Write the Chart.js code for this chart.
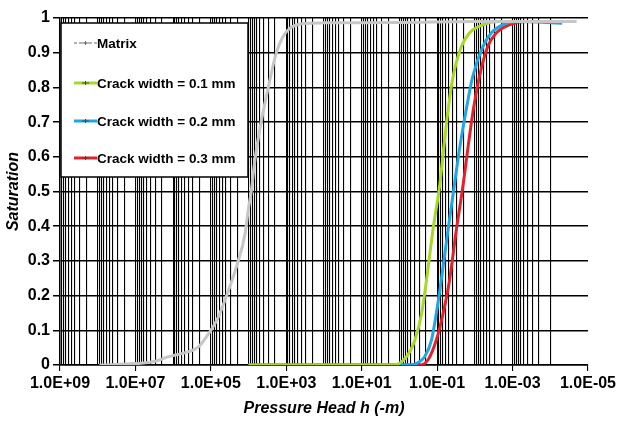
<!DOCTYPE html>
<html><head><meta charset="utf-8">
<script src="https://cdn.jsdelivr.net/npm/chart.js@4/dist/chart.umd.min.js"></script>
<style>html,body{margin:0;padding:0;background:#fff;}#wrap{width:619px;height:421px;}</style>
</head><body><div id="wrap"><canvas id="c" width="619" height="421"></canvas></div>
<script>
const seriesNames = ['Matrix', 'Crack width = 0.1 mm', 'Crack width = 0.2 mm', 'Crack width = 0.3 mm'];
const seriesColors = ['#c6c6c6', '#a8d824', '#1fa6e4', '#e4202c'];

const matrixHead = [9e7, 1e7, 3.2e6, 1.3e6, 5e5, 2.1e5, 1.15e5, 6.3e4, 3.9e4, 2.1e4, 1.23e4, 1.02e4, 8500, 6800, 4700, 3000, 1860, 1230, 810, 420, 100, 1, 0.01, 2e-5];
const matrixSat  = [0, 0.004, 0.01, 0.024, 0.035, 0.053, 0.09, 0.139, 0.197, 0.283, 0.38, 0.447, 0.5, 0.59, 0.697, 0.8, 0.898, 0.946, 0.97, 0.983, 0.986, 0.987, 0.99, 0.99];

const crack01Head = [1e4, 1.45, 0.646, 0.389, 0.257, 0.191, 0.129, 0.0851, 0.0676, 0.0513, 0.038, 0.0229, 0.0141, 0.00617, 0.00229, 4e-5];
const crack01Sat  = [0, 0, 0.024, 0.072, 0.149, 0.245, 0.39, 0.52, 0.62, 0.735, 0.83, 0.917, 0.956, 0.98, 0.99, 0.99];

const crack02Head = [1e4, 0.65, 0.347, 0.214, 0.141, 0.105, 0.0776, 0.0513, 0.0347, 0.0257, 0.017, 0.01148, 0.00617, 0.00372, 0.00186, 0.00083, 4.8e-5];
const crack02Sat  = [0, 0, 0.005, 0.024, 0.072, 0.149, 0.245, 0.39, 0.52, 0.62, 0.735, 0.83, 0.917, 0.956, 0.98, 0.99, 0.985];

const crack03Head = [1e4, 0.288, 0.174, 0.105, 0.0692, 0.0468, 0.0309, 0.0204, 0.0155, 0.011, 0.00759, 0.00457, 0.00275, 0.00123, 0.000447, 4e-5];
const crack03Sat  = [0, 0, 0.015, 0.072, 0.149, 0.245, 0.39, 0.52, 0.62, 0.735, 0.83, 0.917, 0.956, 0.98, 0.99, 0.99];

const xTickValues = [1e9, 1e7, 1e5, 1e3, 1e1, 1e-1, 1e-3, 1e-5];
const xTickLabels = ['1.0E+09', '1.0E+07', '1.0E+05', '1.0E+03', '1.0E+01', '1.0E-01', '1.0E-03', '1.0E-05'];
const yTickLabels = ['0', '0.1', '0.2', '0.3', '0.4', '0.5', '0.6', '0.7', '0.8', '0.9', '1'];

const FONT = "'Liberation Sans', Arial, sans-serif";

function zip(h, s) { return h.map((v, i) => ({ x: v, y: s[i] })); }
const heads = [matrixHead, crack01Head, crack02Head, crack03Head];
const sats = [matrixSat, crack01Sat, crack02Sat, crack03Sat];

// grid positions: 1..9 x 10^e for each decade down to 1e-4, plus the 1e-5 end tick
const gridValues = [];
for (let e = 9; e >= -4; e--) {
  for (let m = 9; m >= 1; m--) {
    const v = m * Math.pow(10, e);
    if (v <= 1e9 * 1.0000001) gridValues.push(v);
  }
}
gridValues.push(1e-5);

function labelIndex(v) {
  for (let i = 0; i < xTickValues.length; i++) {
    if (Math.abs(Math.log10(v) - Math.log10(xTickValues[i])) < 1e-6) return i;
  }
  return -1;
}

const legendPlugin = {
  id: 'insideLegend',
  afterDraw(chart) {
    const ctx = chart.ctx;
    const x0 = 61, y0 = 23, w = 187, h = 154;
    ctx.save();
    ctx.fillStyle = '#fff';
    ctx.fillRect(x0, y0, w, h);
    ctx.strokeStyle = '#000';
    ctx.lineWidth = 1.5;
    ctx.strokeRect(x0, y0, w, h);
    const rowY = [43, 83, 121, 158];
    chart.data.datasets.forEach((ds, i) => {
      const y = rowY[i];
      ctx.strokeStyle = ds.borderColor;
      ctx.lineWidth = i === 0 ? 1.5 : 3;
      if (i === 0) { ctx.setLineDash([3, 2]); ctx.strokeStyle = '#999'; }
      ctx.beginPath();
      ctx.moveTo(74, y);
      ctx.lineTo(97, y);
      ctx.stroke();
      ctx.setLineDash([]);
      ctx.strokeStyle = i === 0 ? '#777' : '#444';
      ctx.lineWidth = 1;
      ctx.beginPath();
      ctx.moveTo(82, y); ctx.lineTo(89, y);
      ctx.moveTo(85.5, y - 2); ctx.lineTo(85.5, y + 2);
      ctx.stroke();
      ctx.fillStyle = '#000';
      ctx.font = 'bold 13.5px ' + FONT;
      ctx.textBaseline = 'middle';
      ctx.textAlign = 'left';
      ctx.fillText(ds.label, 97, y + 1);
    });
    ctx.restore();
  }
};

new Chart(document.getElementById('c'), {
  type: 'line',
  data: {
    datasets: seriesNames.map((name, i) => ({
      label: name,
      data: zip(heads[i], sats[i]),
      borderColor: seriesColors[i],
      backgroundColor: seriesColors[i],
      borderWidth: 3,
      pointRadius: 0,
      cubicInterpolationMode: 'monotone',
      fill: false
    }))
  },
  options: {
    responsive: false,
    devicePixelRatio: 1,
    animation: false,
    layout: { padding: { top: 18, right: 26, left: 0, bottom: 0 } },
    plugins: { legend: { display: false }, tooltip: { enabled: false } },
    scales: {
      x: {
        type: 'logarithmic',
        reverse: true,
        min: 1e-5,
        max: 1e9,
        afterBuildTicks: (s) => { s.ticks = gridValues.map(v => ({ value: v })); },
        afterFit: (s) => { s.height = 56; },
        ticks: {
          autoSkip: false,
          maxRotation: 0,
          minRotation: 0,
          padding: 3,
          color: '#000',
          font: { family: FONT, size: 16, weight: 'bold' },
          callback: (v) => { const i = labelIndex(v); return i >= 0 ? xTickLabels[i] : ''; }
        },
        grid: {
          color: (c) => (c.tick && Math.abs(c.tick.value - 1e-5) < 1e-12) ? 'rgba(0,0,0,0)' : '#000',
          lineWidth: 1.1,
          tickLength: 6,
          tickColor: (c) => (c.tick && labelIndex(c.tick.value) >= 0) ? '#000' : 'rgba(0,0,0,0)'
        },
        border: { display: true, color: '#000', width: 1.5 },
        title: {
          display: true,
          text: 'Pressure Head h (-m)',
          color: '#000',
          font: { family: FONT, size: 16, weight: 'bold', style: 'italic' },
          padding: { top: 0, bottom: 3 }
        }
      },
      y: {
        min: 0,
        max: 1,
        afterFit: (s) => { s.width = 60; },
        ticks: {
          stepSize: 0.1,
          padding: 3,
          color: '#000',
          font: { family: FONT, size: 16, weight: 'bold' },
          callback: (v, i) => yTickLabels[i]
        },
        grid: { color: '#000', lineWidth: 1.5, tickLength: 7 },
        border: { display: true, color: '#000', width: 1.5 },
        title: {
          display: true,
          text: 'Saturation',
          color: '#000',
          font: { family: FONT, size: 16, weight: 'bold', style: 'italic' },
          padding: { top: 4, bottom: 0 }
        }
      }
    }
  },
  plugins: [legendPlugin]
});
</script>
</body></html>
